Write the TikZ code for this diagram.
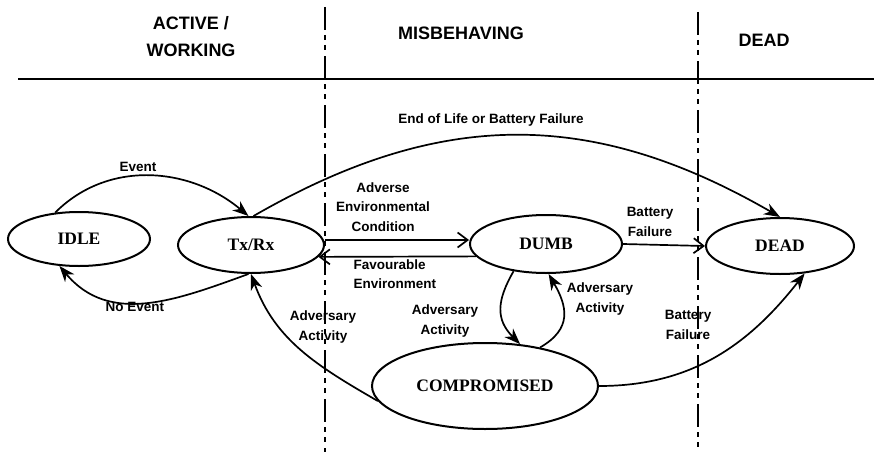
\documentclass[tikz,border=0pt]{standalone}
\usepackage{fontspec}
\setmainfont{Liberation Serif}
\setsansfont{Liberation Sans}
\usetikzlibrary{shapes.geometric,arrows.meta}

\tikzset{
  state/.style={ellipse,draw,line width=2pt,inner sep=0pt,font=\bfseries\fontsize{17.5}{20}\selectfont},
  lbl/.style={font=\sffamily\bfseries\fontsize{13.5}{19.5}\selectfont,align=center},
  hdr/.style={font=\sffamily\bfseries\fontsize{18}{27}\selectfont,align=center},
  curved/.style={-{Stealth[length=16pt,width=12pt,inset=5pt]},line width=1.7pt},
  straight/.style={-{Straight Barb[length=10pt,width=15pt]},line width=1.7pt},
  zone/.style={line width=1.7pt,dash pattern=on 23pt off 5pt on 5pt off 5pt on 5pt off 6pt}
}

\begin{document}
\begin{tikzpicture}[x=1pt,y=-1pt]
  \useasboundingbox (0,0) rectangle (874,452);

  % zones
  \coordinate (z1top) at (325,7);
  \coordinate (z1bot) at (325,452);
  \coordinate (z2top) at (698,12);
  \coordinate (z2bot) at (698,452);
  \coordinate (hl) at (18,79);
  \coordinate (hr) at (874,79);
  \draw[line width=2.4pt] (hl) -- (hr);
  \draw[zone] (z1top) -- (z1bot);
  \draw[zone] (z2top) -- (z2bot);

  \node[hdr] (h1) at (191,37) {ACTIVE /\\WORKING};
  \node[hdr] (h2) at (461,33) {MISBEHAVING};
  \node[hdr] (h3) at (764,40) {DEAD};

  % states
  \node[state,minimum width=142,minimum height=54] (idle) at (79,239) {IDLE};
  \node[state,minimum width=146,minimum height=56] (txrx) at (251,245) {Tx/Rx};
  \node[state,minimum width=152,minimum height=58] (dumb) at (546,244) {DUMB};
  \node[state,minimum width=148,minimum height=56] (dead) at (780,246) {DEAD};
  \node[state,minimum width=226,minimum height=86] (comp) at (485,386) {COMPROMISED};

  % transitions
  \foreach \from/\to/\o/\i/\l in {idle.132/txrx.95/45/140/1,
      txrx.265/idle.234/200/-50/1.05,
      txrx.85/dead.north/30/150/1.05,
      dumb.220/comp.50/240/135/1.2,
      comp.35/dumb.275/30/-60/1.3,
      comp.188/txrx.south/150/-70/1,
      comp.east/dead.312/0/232/1}
    \draw[curved] (\from) to[out=\o,in=\i,looseness=\l] (\to);

  \draw[straight] ([yshift=5pt]txrx.east) -- ([yshift=4pt]dumb.west);
  \draw[straight] (dumb.190) -- (txrx.350);
  \draw[straight] (dumb.east) -- (dead.west);

  % labels
  \node[lbl] (l1) at (138,167) {Event};
  \node[lbl] (l2) at (135,307) {No Event};
  \node[lbl] (l3) at (491,120) {End of Life or Battery Failure};
  \node[lbl] (l4) at (383,207) {Adverse\\Environmental\\Condition};
  \node[lbl,align=left,anchor=west] (l5) at (350,274) {Favourable\\Environment};
  \node[lbl] (l6) at (650,222) {Battery\\Failure};
  \node[lbl] (l7) at (445,321) {Adversary\\Activity};
  \node[lbl] (l8) at (600,299) {Adversary\\Activity};
  \node[lbl] (l9) at (323,327) {Adversary\\Activity};
  \node[lbl] (l10) at (688,325) {Battery\\Failure};
\end{tikzpicture}
\end{document}
